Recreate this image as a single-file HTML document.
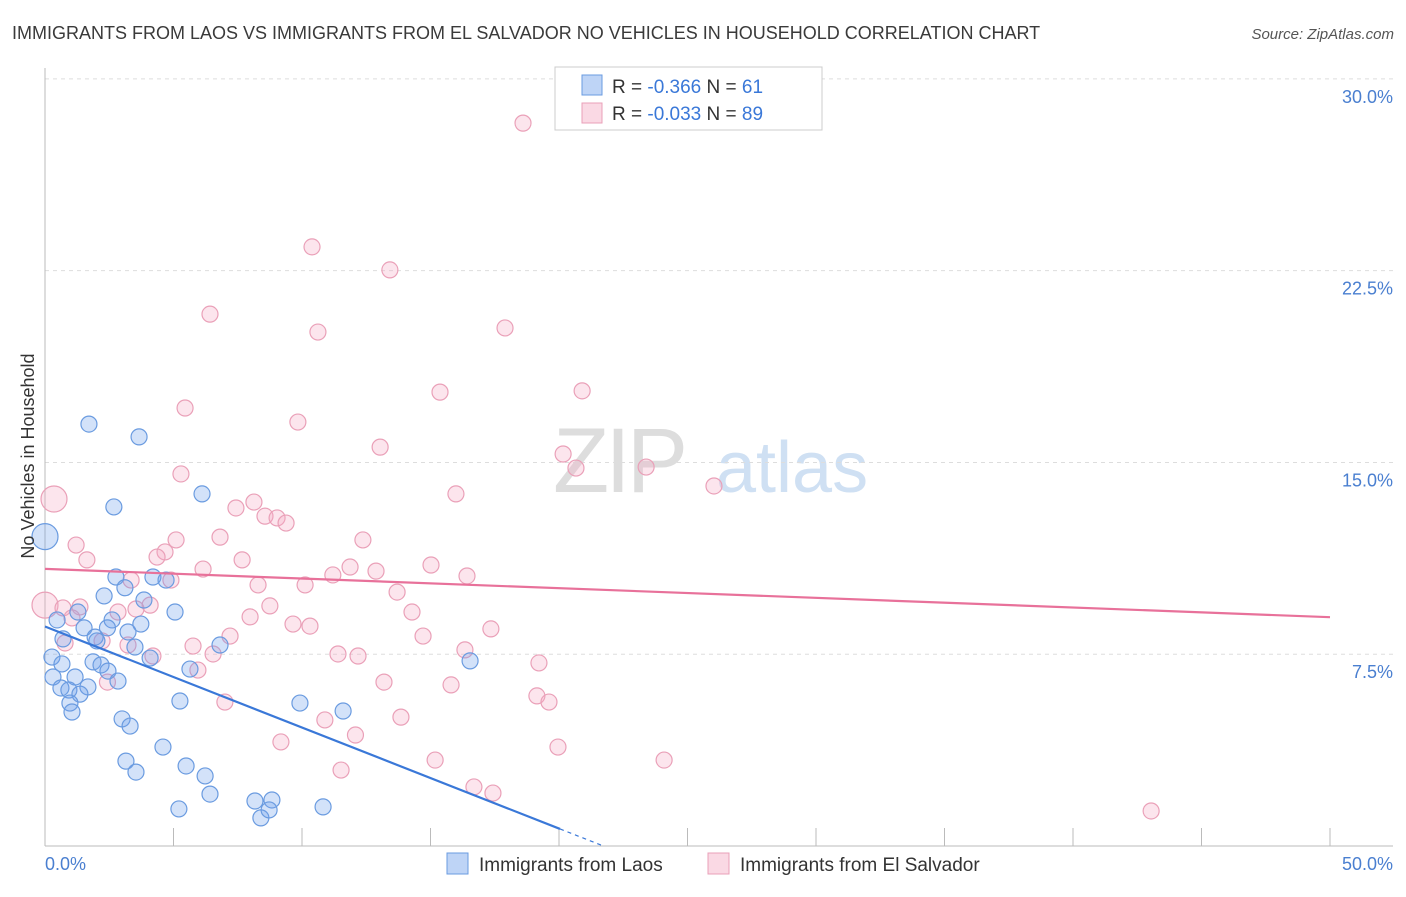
<!DOCTYPE html>
<html><head><meta charset="utf-8"><style>
body{margin:0;background:#fff;font-family:"Liberation Sans",sans-serif;}
svg text{font-family:"Liberation Sans",sans-serif;}
</style></head><body>
<svg id="chart" width="1406" height="892" viewBox="0 0 1406 892" xmlns="http://www.w3.org/2000/svg">
<text x="12" y="39" font-size="18" fill="#3a3a3a">IMMIGRANTS FROM LAOS VS IMMIGRANTS FROM EL SALVADOR NO VEHICLES IN HOUSEHOLD CORRELATION CHART</text>
<text x="1394" y="39" font-size="15" fill="#555" font-style="italic" text-anchor="end">Source: ZipAtlas.com</text>
<g>
<text x="553" y="492" font-size="92" fill="#ddd" font-family="Liberation Serif" letter-spacing="-4">ZIP</text>
<text x="716" y="492" font-size="72" fill="#cfe0f3">atlas</text>
</g>
<g id="grid"></g>
<g id="axes"></g>
<g id="pts"></g>
<g id="trend"></g>
<text transform="translate(34,456) rotate(-90)" font-size="18" fill="#333" text-anchor="middle">No Vehicles in Household</text>
<text x="45" y="870" font-size="18" fill="#4a7fd0">0.0%</text>
<text x="1393" y="870" font-size="18" fill="#4a7fd0" text-anchor="end">50.0%</text>
<g>
<rect x="555" y="67" width="267" height="63" fill="#fff" stroke="#ccc"/>
<rect x="582" y="75" width="20" height="20" fill="rgba(110,160,235,0.45)" stroke="#6a9be0"/>
<rect x="582" y="103" width="20" height="20" fill="rgba(245,170,195,0.45)" stroke="#eaa0b8"/>
<text x="612" y="93" font-size="19" fill="#333">R = <tspan fill="#3a78d8">-0.366</tspan>   N = <tspan fill="#3a78d8"> 61</tspan></text>
<text x="612" y="120" font-size="19" fill="#333">R = <tspan fill="#3a78d8">-0.033</tspan>   N = <tspan fill="#3a78d8">89</tspan></text>
</g>
<g>
<rect x="447" y="853" width="21" height="21" fill="rgba(110,160,235,0.45)" stroke="#6a9be0"/>
<text x="479" y="871" font-size="19" fill="#333">Immigrants from Laos</text>
<rect x="708" y="853" width="21" height="21" fill="rgba(245,170,195,0.45)" stroke="#eaa0b8"/>
<text x="740" y="871" font-size="19" fill="#333">Immigrants from El Salvador</text>
</g>
</svg>
<script>
const yTicks=[7.5,15.0,22.5,30.0];
const yTickLabels=["7.5%","15.0%","22.5%","30.0%"];
const xTicks=[0,5,10,15,20,25,30,35,40,45,50];
const laosX=[0,1.71,3.66,2.68,6.11,2.76,4.2,4.71,3.11,2.3,3.85,5.06,1.28,0.47,2.61,3.73,1.52,2.43,3.23,1.95,0.7,2.02,3.5,6.81,4.09,0.27,1.87,2.18,0.66,5.64,2.45,16.54,0.31,1.17,2.84,0.62,1.67,0.93,1.36,5.25,9.92,11.6,0.97,1.05,3.0,3.31,4.59,3.15,3.54,5.49,6.23,6.42,5.21,8.17,8.83,8.4,8.72,10.82];
const laosY=[12.1,16.5,16.0,13.26,13.77,10.52,10.52,10.4,10.1,9.78,9.62,9.15,9.15,8.84,8.84,8.68,8.53,8.53,8.37,8.17,8.1,8.02,7.78,7.86,7.35,7.39,7.2,7.08,7.12,6.92,6.84,7.24,6.61,6.61,6.45,6.18,6.22,6.1,5.94,5.67,5.59,5.28,5.59,5.24,4.97,4.69,3.87,3.32,2.89,3.13,2.74,2.03,1.45,1.76,1.8,1.1,1.41,1.53];
const salvX=[18.6,10.39,13.42,6.42,10.62,17.9,20.9,15.37,5.45,9.84,13.04,20.16,20.66,23.39,5.29,26.03,15.99,0.35,8.13,7.43,8.56,9.03,9.38,6.81,5.1,12.37,1.21,4.67,4.36,1.63,7.67,11.87,15.02,12.88,6.15,11.2,16.42,4.9,3.35,8.29,10.12,13.7,0,0.7,1.36,4.09,3.54,8.75,2.84,1.05,14.28,7.98,9.65,10.31,17.35,7.2,14.71,3.23,5.76,2.22,0.78,6.54,4.2,11.4,12.18,16.34,19.22,5.95,2.43,13.19,15.8,19.14,19.61,7.0,13.85,10.89,12.08,9.18,19.96,15.18,24.09,11.52,16.69,17.43,43.04];
const salvY=[28.27,23.43,22.53,20.8,20.1,20.26,17.8,17.75,17.13,16.58,15.6,15.33,14.78,14.82,14.55,14.08,13.77,13.57,13.45,13.22,12.9,12.83,12.63,12.08,11.97,11.97,11.77,11.5,11.3,11.19,11.19,10.91,10.99,10.75,10.83,10.6,10.56,10.4,10.4,10.21,10.21,9.93,9.42,9.31,9.35,9.42,9.27,9.39,9.15,8.92,9.15,8.96,8.68,8.6,8.49,8.21,8.21,7.86,7.82,8.02,7.94,7.51,7.43,7.51,7.43,7.67,7.16,6.88,6.41,6.41,6.3,5.87,5.63,5.63,5.04,4.93,4.34,4.07,3.87,3.36,3.36,2.97,2.31,2.07,1.37];
const NS="http://www.w3.org/2000/svg";
const X=v=>45+v*25.7, Y=v=>846-v*25.57;
function mk(tag,attrs,parent){const e=document.createElementNS(NS,tag);for(const k in attrs)e.setAttribute(k,attrs[k]);parent.appendChild(e);return e;}
const grid=document.getElementById('grid'),axes=document.getElementById('axes'),pts=document.getElementById('pts'),trend=document.getElementById('trend');
yTicks.forEach((t,i)=>{
 const l=mk('line',{x1:45,x2:1393,y1:Y(t),y2:Y(t),stroke:'#ddd','stroke-dasharray':'4,4'},grid);
 
 
 const tx=mk('text',{x:1393,y:Y(t)+24,'font-size':18,fill:'#4a7fd0','text-anchor':'end'},grid);
 tx.textContent=yTickLabels[i];
 
 
});
const ya=mk('line',{x1:45,x2:45,y1:68,y2:846,stroke:'#bbb'},axes);


const xa=mk('line',{x1:45,x2:1393,y1:846,y2:846,stroke:'#bbb'},axes);


xTicks.forEach(t=>{
 const l=mk('line',{x1:X(t),x2:X(t),y1:828,y2:846,stroke:'#bbb'},axes);
 
 
});
function drawPts(xs,ys,stroke,fill,name){
 xs.forEach((x,i)=>{
  const big=(i===0&&name==='laos-point')||(name==='salvador-point'&&(xs[i]<=0.4)&&(ys[i]>13||ys[i]>9.4&&ys[i]<9.5));
  const c=mk('circle',{cx:X(x),cy:Y(ys[i]),r:big?13:8,fill:fill,stroke:stroke,'stroke-width':1.2},pts);
  
  
 });
}
drawPts(salvX,salvY,'#eaa0b8','rgba(245,170,195,0.3)','salvador-point');
drawPts(laosX,laosY,'#6a9be0','rgba(110,160,235,0.3)','laos-point');
function fit(xs,ys){const n=xs.length;let mx=0,my=0;xs.forEach((x,i)=>{mx+=x;my+=ys[i];});mx/=n;my/=n;let sxy=0,sxx=0;xs.forEach((x,i)=>{sxy+=(x-mx)*(ys[i]-my);sxx+=(x-mx)**2;});const b=sxy/sxx;return [my-b*mx,b];}
const [pa,pb]=fit(salvX,salvY);
const pl=mk('line',{x1:X(0),y1:Y(pa),x2:X(50),y2:Y(pa+pb*50),stroke:'#e8719a','stroke-width':2.2},trend);


const [la,lb]=fit(laosX,laosY);
const xEnd=Math.max(...laosX)+3.5;
const bl=mk('line',{x1:X(0),y1:Y(la),x2:X(xEnd),y2:Y(la+lb*xEnd),stroke:'#3a78d8','stroke-width':2.2},trend);


const xZero=Math.min(-la/lb,50);
const bd=mk('line',{x1:X(xEnd),y1:Y(la+lb*xEnd),x2:X(xZero),y2:Y(0),stroke:'#3a78d8','stroke-width':1.2,'stroke-dasharray':'4,4'},trend);


</script>
</body></html>
